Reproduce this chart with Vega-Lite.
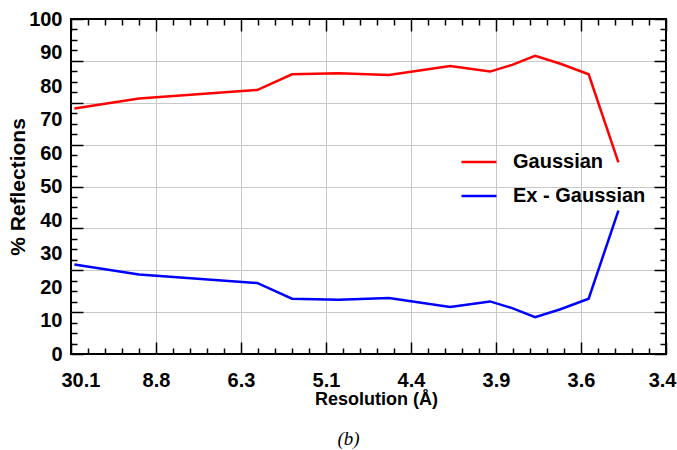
{
  "$schema": "https://vega.github.io/schema/vega-lite/v6.json",
  "width": 595,
  "height": 335,
  "autosize": {"type": "none"},
  "padding": {"left": 71, "top": 19, "right": 11, "bottom": 96},
  "background": "white",
  "config": {
    "view": {"stroke": "black", "strokeWidth": 2},
    "font": "Liberation Sans",
    "axis": {"labelFont": "Liberation Sans", "titleFont": "Liberation Sans", "labelColor": "black", "titleColor": "black", "labelFontWeight": "bold", "titleFontWeight": "bold", "labelOverlap": false, "labelBound": false}
  },
  "data": {
    "values": [
      {"x": 0.04, "series": "Gaussian", "pct": 73.3},
      {"x": 0.80, "series": "Gaussian", "pct": 76.3},
      {"x": 2.19, "series": "Gaussian", "pct": 78.8},
      {"x": 2.60, "series": "Gaussian", "pct": 83.5},
      {"x": 3.15, "series": "Gaussian", "pct": 83.8},
      {"x": 3.74, "series": "Gaussian", "pct": 83.3},
      {"x": 4.46, "series": "Gaussian", "pct": 86.0},
      {"x": 4.93, "series": "Gaussian", "pct": 84.3},
      {"x": 5.19, "series": "Gaussian", "pct": 86.3},
      {"x": 5.46, "series": "Gaussian", "pct": 89.0},
      {"x": 5.75, "series": "Gaussian", "pct": 86.7},
      {"x": 6.09, "series": "Gaussian", "pct": 83.5},
      {"x": 6.44, "series": "Gaussian", "pct": 57.2},
      {"x": 0.04, "series": "Ex - Gaussian", "pct": 26.7},
      {"x": 0.80, "series": "Ex - Gaussian", "pct": 23.7},
      {"x": 2.19, "series": "Ex - Gaussian", "pct": 21.2},
      {"x": 2.60, "series": "Ex - Gaussian", "pct": 16.5},
      {"x": 3.15, "series": "Ex - Gaussian", "pct": 16.2},
      {"x": 3.74, "series": "Ex - Gaussian", "pct": 16.7},
      {"x": 4.46, "series": "Ex - Gaussian", "pct": 14.0},
      {"x": 4.93, "series": "Ex - Gaussian", "pct": 15.7},
      {"x": 5.19, "series": "Ex - Gaussian", "pct": 13.7},
      {"x": 5.46, "series": "Ex - Gaussian", "pct": 11.0},
      {"x": 5.75, "series": "Ex - Gaussian", "pct": 13.3},
      {"x": 6.09, "series": "Ex - Gaussian", "pct": 16.5},
      {"x": 6.44, "series": "Ex - Gaussian", "pct": 42.8}
    ]
  },
  "title": {"text": "(b)", "orient": "bottom", "font": "Liberation Serif", "fontStyle": "italic", "fontWeight": "normal", "fontSize": 19, "color": "black", "offset": 22, "anchor": "middle", "dx": -20},
  "layer": [
    {
      "mark": {"type": "line", "strokeWidth": 2.5},
      "encoding": {
        "x": {
          "field": "x", "type": "quantitative",
          "scale": {"domain": [0, 7], "nice": false, "zero": false},
          "axis": {
            "orient": "bottom", "values": [0, 1, 2, 3, 4, 5, 6, 7], "ticks": false, "domain": false,
            "labelExpr": "['30.1','8.8','6.3','5.1','4.4','3.9','3.6','3.4'][round(datum.value)]",
            "labelFontSize": 20, "labelPadding": 16, "labelFlush": true, "labelFlushOffset": 10,
            "grid": true, "gridColor": "#c8c8c8", "gridWidth": 1,
            "gridOpacity": {"condition": {"test": "datum.value > 0 && datum.value < 7", "value": 1}, "value": 0},
            "title": "Resolution (Å)", "titleFontSize": 18, "titlePadding": 0, "titleX": 305
          }
        },
        "y": {
          "field": "pct", "type": "quantitative",
          "scale": {"domain": [0, 100], "nice": false},
          "axis": {
            "orient": "left", "values": [0, 10, 20, 30, 40, 50, 60, 70, 80, 90, 100], "ticks": false, "domain": false, "grid": false,
            "labelFontSize": 20, "labelPadding": 9,
            "title": "% Reflections", "titleFontSize": 21, "titlePadding": 0
          }
        },
        "color": {
          "field": "series", "type": "nominal",
          "scale": {"domain": ["Gaussian", "Ex - Gaussian"], "range": ["#ff0000", "#0000ff"]},
          "legend": {
            "orient": "none", "legendX": 389, "legendY": 124, "title": null, "padding": 0,
            "labelFont": "Liberation Sans", "labelFontSize": 20, "labelFontWeight": "bold", "labelColor": "black",
            "symbolType": "stroke", "symbolSize": 1225, "symbolStrokeWidth": 2.5, "labelOffset": 15, "rowPadding": 5
          }
        }
      }
    },
    {
      "mark": {"type": "line", "strokeOpacity": 0},
      "encoding": {
        "x": {
          "field": "x", "type": "quantitative",
          "axis": {
            "orient": "bottom", "labels": false, "domain": false, "grid": false, "title": null,
            "values": [0, 0.2, 0.4, 0.6, 0.8, 1, 1.2, 1.4, 1.6, 1.8, 2, 2.2, 2.4, 2.6, 2.8, 3, 3.2, 3.4, 3.6, 3.8, 4, 4.2, 4.4, 4.6, 4.8, 5, 5.2, 5.4, 5.6, 5.8, 6, 6.2, 6.4, 6.6, 6.8, 7],
            "tickColor": "black", "tickWidth": 1.5,
            "tickSize": {"condition": {"test": "abs(datum.value - round(datum.value)) < 0.001", "value": -12}, "value": -6}
          }
        },
        "y": {
          "field": "pct", "type": "quantitative",
          "axis": {
            "orient": "left", "labels": false, "domain": false, "title": null,
            "values": [0, 3.125, 6.25, 9.375, 12.5, 15.625, 18.75, 21.875, 25, 28.125, 31.25, 34.375, 37.5, 40.625, 43.75, 46.875, 50, 53.125, 56.25, 59.375, 62.5, 65.625, 68.75, 71.875, 75, 78.125, 81.25, 84.375, 87.5, 90.625, 93.75, 96.875, 100],
            "tickColor": "black", "tickWidth": 1.5,
            "tickSize": {"condition": {"test": "datum.value % 12.5 === 0", "value": -12}, "value": -6},
            "grid": true, "gridColor": "#c8c8c8", "gridWidth": 1,
            "gridOpacity": {"condition": {"test": "datum.value % 12.5 === 0 && datum.value > 0 && datum.value < 100", "value": 1}, "value": 0}
          }
        },
        "detail": {"field": "series"}
      }
    },
    {
      "mark": {"type": "line", "strokeOpacity": 0},
      "encoding": {
        "x": {
          "field": "x", "type": "quantitative",
          "axis": {
            "orient": "top", "labels": false, "domain": false, "grid": false, "title": null,
            "values": [0, 0.2, 0.4, 0.6, 0.8, 1, 1.2, 1.4, 1.6, 1.8, 2, 2.2, 2.4, 2.6, 2.8, 3, 3.2, 3.4, 3.6, 3.8, 4, 4.2, 4.4, 4.6, 4.8, 5, 5.2, 5.4, 5.6, 5.8, 6, 6.2, 6.4, 6.6, 6.8, 7],
            "tickColor": "black", "tickWidth": 1.5,
            "tickSize": {"condition": {"test": "abs(datum.value - round(datum.value)) < 0.001", "value": -12}, "value": -6}
          }
        },
        "y": {
          "field": "pct", "type": "quantitative",
          "axis": {
            "orient": "right", "labels": false, "domain": false, "grid": false, "title": null,
            "values": [0, 3.125, 6.25, 9.375, 12.5, 15.625, 18.75, 21.875, 25, 28.125, 31.25, 34.375, 37.5, 40.625, 43.75, 46.875, 50, 53.125, 56.25, 59.375, 62.5, 65.625, 68.75, 71.875, 75, 78.125, 81.25, 84.375, 87.5, 90.625, 93.75, 96.875, 100],
            "tickColor": "black", "tickWidth": 1.5,
            "tickSize": {"condition": {"test": "datum.value % 12.5 === 0", "value": -12}, "value": -6}
          }
        },
        "detail": {"field": "series"}
      }
    }
  ],
  "resolve": {"axis": {"x": "independent", "y": "independent"}}
}
